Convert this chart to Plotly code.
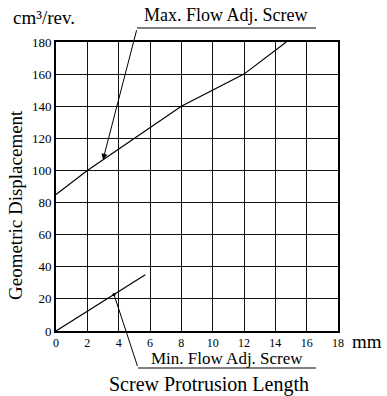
import plotly.graph_objects as go

# Data
max_x = [0, 2, 8, 12, 14.7]
max_y = [85, 100, 140, 160, 180]
min_x = [0, 5.7]
min_y = [0, 35]
x_ticks = [0, 2, 4, 6, 8, 10, 12, 14, 16, 18]
y_ticks = [0, 20, 40, 60, 80, 100, 120, 140, 160, 180]
max_label = "Max. Flow Adj. Screw"
min_label = "Min. Flow Adj. Screw"
max_point = (3.0, 106.7)
min_point = (3.7, 22.7)

FONT = "Times New Roman, Liberation Serif, DejaVu Serif, serif"
L, R, T, B = 56, 49, 42, 65
W, H = 387, 396
pw, ph = W - L - R, H - T - B

def px(xp):  # pixel x -> paper
    return (xp - L) / pw

def py(yp):  # pixel y -> paper
    return (H - B - yp) / ph

fig = go.Figure()
fig.add_trace(go.Scatter(x=max_x, y=max_y, mode="lines",
                         line=dict(color="black", width=1.2), showlegend=False))
fig.add_trace(go.Scatter(x=min_x, y=min_y, mode="lines",
                         line=dict(color="black", width=1.2), showlegend=False))

axis_common = dict(showgrid=True, gridcolor="#111", gridwidth=1.4,
                   showline=True, linecolor="black", linewidth=2, mirror=True,
                   zeroline=False, ticks="")

fig.update_xaxes(range=[0, 18], tickvals=x_ticks, ticktext=[str(v) for v in x_ticks],
                 tickfont=dict(family=FONT, color="black", size=12), **axis_common)
fig.update_yaxes(range=[0, 180], tickvals=y_ticks, ticktext=[str(v) for v in y_ticks],
                 tickfont=dict(family=FONT, color="black", size=13), **axis_common)

ann = []
# Max label and leader
ann.append(dict(xref="paper", yref="paper", x=px(226), y=py(27), text=max_label,
                showarrow=False, xanchor="center", yanchor="bottom",
                font=dict(family=FONT, size=18, color="black")))
ann.append(dict(xref="x", yref="y", x=max_point[0], y=max_point[1],
                axref="pixel", ayref="pixel", ax=137 - 103, ay=28 - 159,
                text="", showarrow=True, arrowhead=2, arrowsize=1.2, arrowwidth=1,
                arrowcolor="black", standoff=0))
# Min label and leader
ann.append(dict(xref="paper", yref="paper", x=px(227), y=py(370), text=min_label,
                showarrow=False, xanchor="center", yanchor="bottom",
                font=dict(family=FONT, size=17, color="black")))
ann.append(dict(xref="x", yref="y", x=min_point[0], y=min_point[1],
                axref="pixel", ayref="pixel", ax=138 - 114, ay=368 - 295,
                text="", showarrow=True, arrowhead=6, arrowsize=0.8, arrowwidth=1,
                arrowcolor="black", standoff=0))
# units and titles
ann.append(dict(xref="paper", yref="paper", x=px(11), y=py(30), text="cm³/rev.",
                showarrow=False, xanchor="left", yanchor="bottom",
                font=dict(family=FONT, size=19, color="black")))
ann.append(dict(xref="paper", yref="paper", x=px(350), y=py(341), text="mm",
                showarrow=False, xanchor="left", yanchor="middle",
                font=dict(family=FONT, size=19, color="black")))
ann.append(dict(xref="paper", yref="paper", x=px(15), y=py(205), text="Geometric Displacement",
                showarrow=False, xanchor="center", yanchor="middle", textangle=-90,
                font=dict(family=FONT, size=19, color="black")))
ann.append(dict(xref="paper", yref="paper", x=px(209), y=py(384), text="Screw Protrusion Length",
                showarrow=False, xanchor="center", yanchor="middle",
                font=dict(family=FONT, size=20, color="black")))

shapes = [
    dict(type="line", xref="paper", yref="paper", x0=px(137), x1=px(316), y0=py(28), y1=py(28),
         line=dict(color="black", width=1)),
    dict(type="line", xref="paper", yref="paper", x0=px(138), x1=px(316), y0=py(368), y1=py(368),
         line=dict(color="black", width=1)),
]

fig.update_layout(width=W, height=H, margin=dict(l=L, r=R, t=T, b=B, pad=0),
                  font=dict(family=FONT, color="black"),
                  plot_bgcolor="white", paper_bgcolor="white",
                  annotations=ann, shapes=shapes, showlegend=False)

fig.write_html("out.html")
